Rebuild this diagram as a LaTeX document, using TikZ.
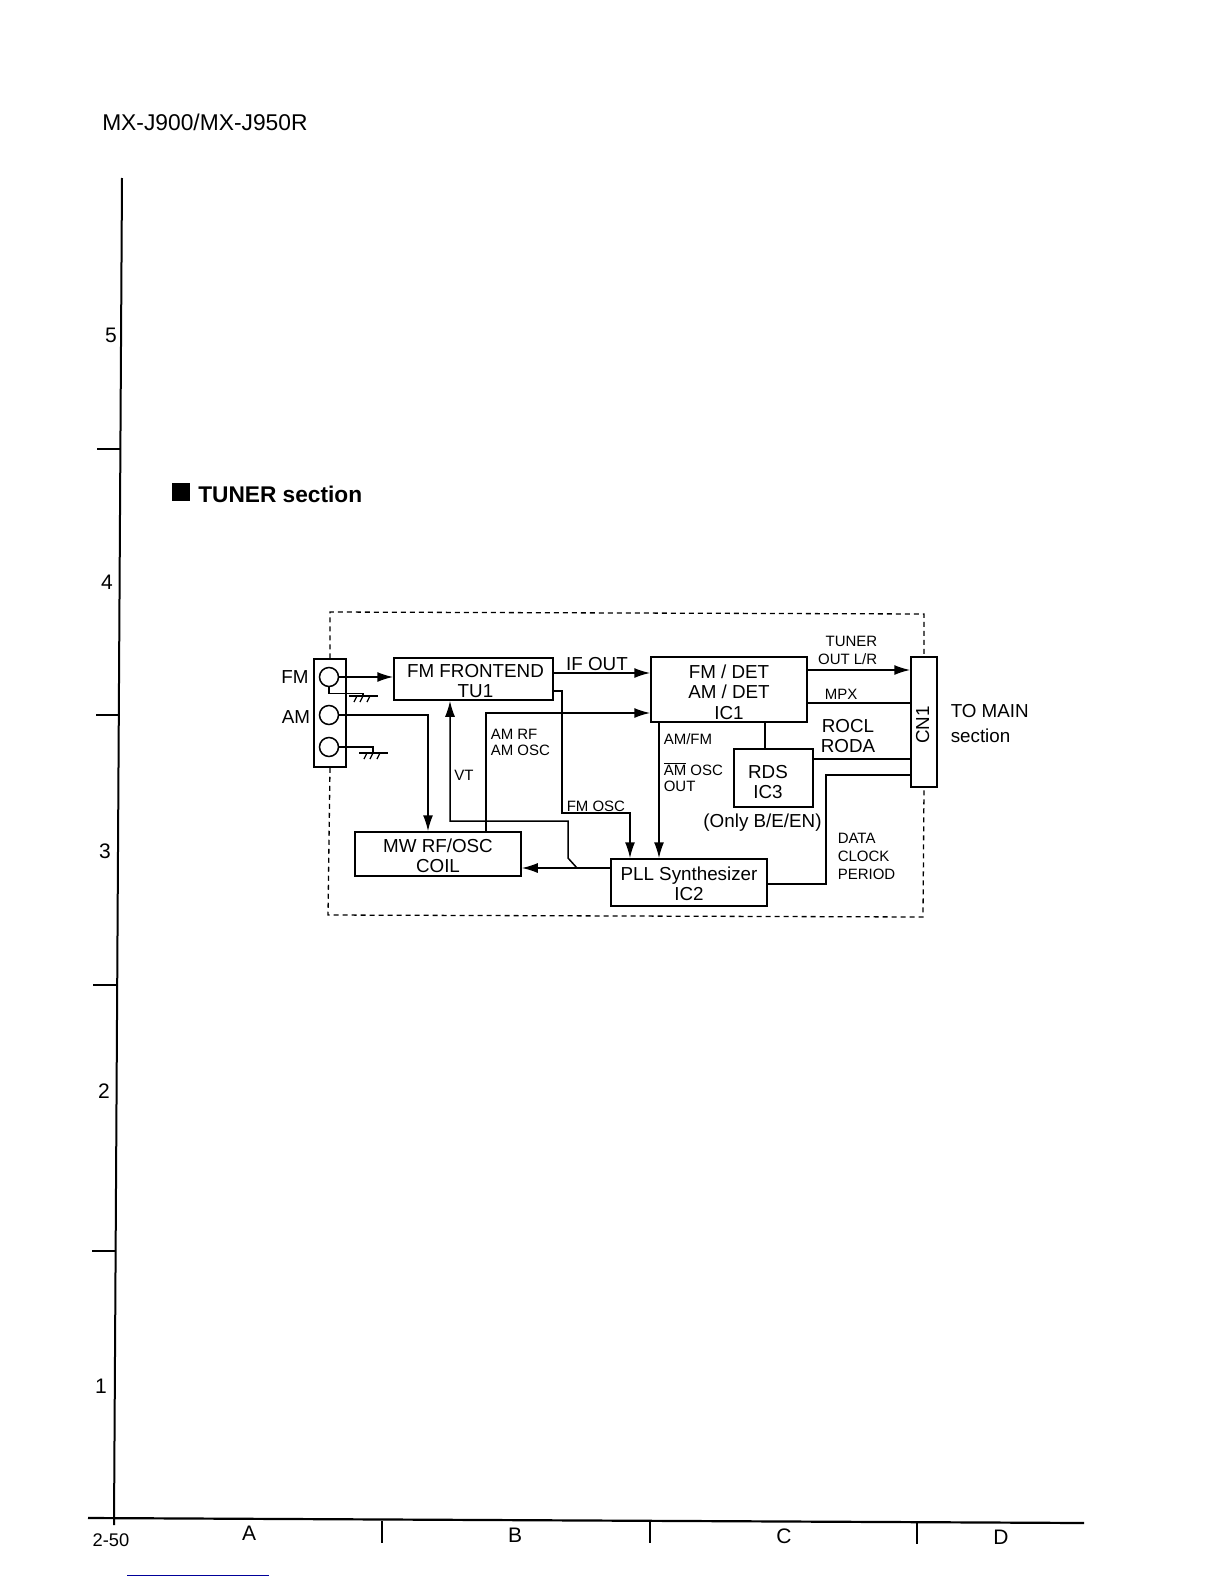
\documentclass[tikz,border=0pt]{standalone}
\usepackage{fontspec}
\setmainfont{Liberation Sans}
\usepackage{tikz}
\usetikzlibrary{arrows.meta,positioning,calc}

\tikzset{
  gndmark/.pic={
    \draw[line width=1.2pt] (-14,0) -- (15,0);
    \foreach \sx in {-6,0,7} \draw[line width=1.2pt] (\sx,0) -- ++(-3,6);
  }
}

\begin{document}
\begin{tikzpicture}[x=1pt, y=-1pt, line width=1.5pt,
    blockbox/.style={draw, align=center, inner sep=0pt, font=\fontsize{18.8}{20.5}\selectfont},
    jack/.style={draw, circle, minimum size=19pt, inner sep=0pt},
    biglbl/.style={inner sep=0pt, font=\fontsize{18.8}{20.5}\selectfont},
    smalllbl/.style={inner sep=0pt, font=\fontsize{15}{16}\selectfont},
    pagelbl/.style={inner sep=0pt, font=\fontsize{21}{24}\selectfont},
    sig/.style={-{Latex[length=16pt,width=10pt]}},
    dashline/.style={line width=1.3pt, dash pattern=on 5pt off 4pt}]
  \useasboundingbox (0,0) rectangle (1224,1584);

  % page frame
  \node[anchor=west, inner sep=0pt, font=\fontsize{22.8}{26}\selectfont] (pagetitle) at (101.5,122) {MX-J900/MX-J950R};
  \draw[line width=2pt] (122,178) -- (114,1525);
  \draw (97,449) -- (120,449);
  \draw (96,715) -- (119,715);
  \draw (93,985) -- (117,985);
  \draw (92,1251) -- (115,1251);
  \node[pagelbl] (row5) at (111,335) {5};
  \node[pagelbl] (row4) at (107,582) {4};
  \node[pagelbl] (row3) at (105,851) {3};
  \node[pagelbl] (row2) at (104,1091) {2};
  \node[pagelbl] (row1) at (101,1386) {1};
  \draw[line width=2.2pt] (88,1518) -- (1084,1523);
  \draw (382,1521) -- (382,1543);
  \draw (650,1522) -- (650,1543);
  \draw (917,1523) -- (917,1544);
  \node[pagelbl] (colA) at (249,1533) {A};
  \node[pagelbl] (colB) at (515,1535) {B};
  \node[pagelbl] (colC) at (784,1536) {C};
  \node[pagelbl] (colD) at (1001,1537) {D};
  \node[smalllbl, font=\fontsize{18.3}{20}\selectfont] (pagenum) at (111,1540) {2-50};
  \draw[blue!60!black, line width=1pt] (127,1575) -- (269,1575);

  \fill (172,483) rectangle (190,501);
  \node[anchor=west, inner sep=0pt, font=\fontsize{22.7}{26}\selectfont\bfseries] (sectitle) at (197.5,494) {TUNER section};

  % blocks
  \node[draw, minimum width=32pt, minimum height=108pt, inner sep=0pt] (term) at (330,713) {};
  \node[jack] (fmjack) at (329,677) {};
  \node[jack] (amjack) at (329,715) {};
  \node[jack] (gndjack) at (329,747) {};
  \node[blockbox, minimum width=159pt, minimum height=42pt] (tu1) at (473.5,679) {\rule{0pt}{17.3pt}\hspace*{4pt}FM FRONTEND\\\hspace*{4pt}TU1};
  \node[blockbox, minimum width=166pt, minimum height=44pt] (mw) at (438,854) {\rule{0pt}{17.6pt}MW RF/OSC\\COIL};
  \node[blockbox, minimum width=156pt, minimum height=47pt] (pll) at (689,882.5) {\rule{0pt}{16.3pt}PLL Synthesizer\\IC2};
  \node[blockbox, minimum width=156pt, minimum height=65pt] (ic1) at (729,689.5) {\rule{0pt}{18.3pt}FM / DET\\AM / DET\\IC1};
  \node[blockbox, minimum width=79pt, minimum height=58pt] (rds) at (773.5,778) {\rule{0pt}{21.3pt}RDS\hspace*{11pt}\\IC3\hspace*{11pt}};
  \node[blockbox, rotate=90, minimum width=130pt, minimum height=26pt] (cn1) at (924,722) {\rule[-3pt]{0pt}{3pt}CN1\hspace*{6pt}};

  % outer dashed border
  \draw[dashline] (term.north) -- (330,612) -- (924,614) -- (cn1.east);
  \draw[dashline] (term.south) -- (328,915) -- (923,917) -- (cn1.west);

  % connectors
  \coordinate (fmgnd) at (363,696);
  \coordinate (amgnd) at (373,753);
  \draw[sig] (fmjack.east) -- (tu1.west |- fmjack.east);
  \draw (fmjack.south) -- ++(0,6) -| (fmgnd);
  \pic at (fmgnd) {gndmark};
  \draw (gndjack.east) -| (amgnd);
  \pic at (amgnd) {gndmark};
  \draw[sig] (amjack.east) -| (428,0 |- mw.north);
  \draw[sig] (tu1.east |- 0,673) -- (ic1.west |- 0,673);
  \draw[sig] (tu1.east |- 0,691) -| (562,813) -| (630,0 |- pll.north);
  \draw[sig] (486,0 |- mw.north) |- (ic1.west |- 0,713);
  \draw[sig] (pll.west |- 0,868) -- (mw.east |- 0,868);
  \draw[sig] (577,868) -- (568,858) -- (568,821) -- (450,821) -- (450,0 |- tu1.south);
  \draw[sig] (659,0 |- ic1.south) -- (659,0 |- pll.north);
  \draw (765,0 |- ic1.south) -- (765,0 |- rds.north);
  \draw[sig] (ic1.east |- 0,670) -- (cn1.north |- 0,670);
  \draw (ic1.east |- 0,703) -- (cn1.north |- 0,703);
  \draw (rds.east |- 0,759) -- (cn1.north |- 0,759);
  \draw (pll.east |- 0,884) -- (826,884) -- (826,775) -- (cn1.north |- 0,775);

  % labels
  \node[biglbl] (fmlbl) at (295,677) {FM};
  \node[biglbl] (amlbl) at (296,717) {AM};
  \node[biglbl] (iflbl) at (597,664) {IF OUT};
  \node[smalllbl, anchor=west, align=left] (amrflbl) at (490,742) {AM RF\\AM OSC};
  \node[smalllbl] (vtlbl) at (464,775) {VT};
  \node[smalllbl, anchor=west] (fmosclbl) at (566,806) {FM OSC};
  \node[smalllbl, anchor=east, align=right] (tunerlbl) at (878,650) {TUNER\\[2pt]OUT L/R};
  \node[smalllbl] (mpxlbl) at (841,694) {MPX};
  \node[biglbl, align=center] (roclbl) at (848,736) {ROCL\\RODA};
  \node[smalllbl, anchor=west] (amfmlbl) at (663,739) {AM/FM};
  \node[smalllbl, anchor=west, align=left] (oscoutlbl) at (663,777) {$\overline{\mbox{AM}}$ OSC\\OUT};
  \node[biglbl] (onlylbl) at (762.5,823) {(Only B/E/EN)};
  \node[smalllbl, anchor=west, align=left] (datalbl) at (837,856) {DATA\\[2pt]CLOCK\\[2pt]PERIOD};
  \node[biglbl, anchor=west, align=left] (mainlbl) at (950,724) {TO MAIN\\[4.5pt]section};
\end{tikzpicture}
\end{document}
